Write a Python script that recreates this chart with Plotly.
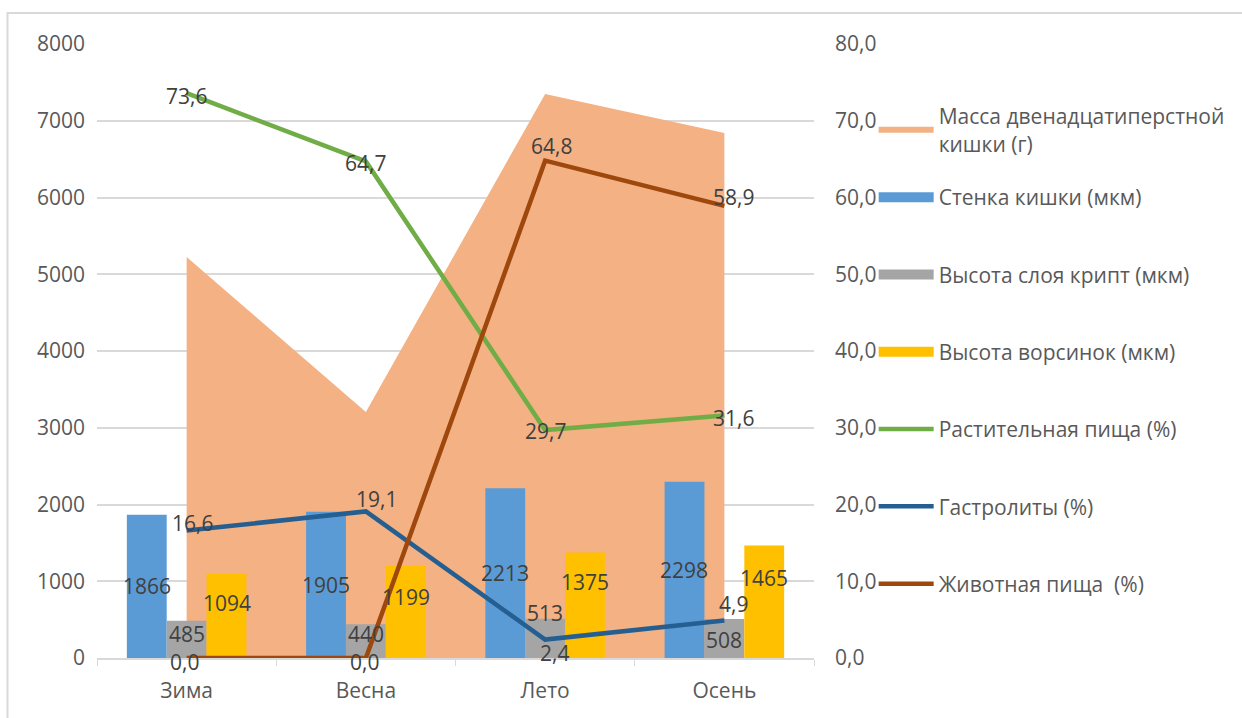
import plotly.graph_objects as go

# ---- data ----
seasons = ["Зима", "Весна", "Лето", "Осень"]
mass_duodenum = [5225, 3205, 7350, 6840]          # Масса двенадцатиперстной кишки (г)
wall = [1866, 1905, 2213, 2298]                    # Стенка кишки (мкм)
crypts = [485, 440, 513, 508]                      # Высота слоя крипт (мкм)
villi = [1094, 1199, 1375, 1465]                   # Высота ворсинок (мкм)
plant_food = [73.6, 64.7, 29.7, 31.6]              # Растительная пища (%)
gastroliths = [16.6, 19.1, 2.4, 4.9]               # Гастролиты (%)
animal_food = [0.0, 0.0, 64.8, 58.9]               # Животная пища (%)
left_ticks = [0, 1000, 2000, 3000, 4000, 5000, 6000, 7000, 8000]
right_ticks = [0, 10, 20, 30, 40, 50, 60, 70, 80]

# ---- style ----
C_AREA = "#F4B183"
C_WALL = "#5B9BD5"
C_CRYPT = "#A5A5A5"
C_VILLI = "#FFC000"
C_PLANT = "#70AD47"
C_GASTRO = "#255E91"
C_ANIMAL = "#9E480E"
FONT = "Open Sans"
TXT = "#595959"
LBL = "#404040"
FS = 21

def fmt(v):
    return f"{v:.1f}".replace(".", ",")

fig = go.Figure()

fig.add_trace(go.Scatter(
    x=seasons, y=mass_duodenum, name="Масса двенадцатиперстной<br>кишки (г)",
    mode="none", fill="tozeroy", fillcolor=C_AREA, yaxis="y",
    legend="legend"))

bar_series = [
    ("Стенка кишки (мкм)", wall, C_WALL),
    ("Высота слоя крипт (мкм)", crypts, C_CRYPT),
    ("Высота ворсинок (мкм)", villi, C_VILLI),
]
for name, vals, col in bar_series:
    fig.add_trace(go.Bar(x=seasons, y=vals, name=name, marker_color=col,
                         marker_line_width=0, yaxis="y2", showlegend=False))

# legend keys for the bar series (wide rectangles like the original)
for i, (name, vals, col) in enumerate(bar_series):
    fig.add_trace(go.Scatter(x=[None], y=[None], name=name, mode="lines",
                             line=dict(color=col, width=10), yaxis="y2",
                             legend="legend2", legendgroup=f"b{i}"))

for i, (name, vals, col) in enumerate([
    ("Растительная пища (%)", plant_food, C_PLANT),
    ("Гастролиты (%)", gastroliths, C_GASTRO),
    ("Животная пища  (%)", animal_food, C_ANIMAL),
]):
    fig.add_trace(go.Scatter(x=seasons, y=vals, name=name, mode="lines",
                             line=dict(color=col, width=4.5), yaxis="y3",
                             legend="legend2", legendgroup=f"l{i}"))

# ---- data labels ----
ann = []
bar_label_specs = [
    (wall, -40, [0.5, 0.5, 0.5, 0.5]),
    (crypts, 0, [0.65, 0.71, 1.14, 0.46]),
    (villi, 40, [0.655, 0.663, 0.72, 0.711]),
]
for vals, xs, fr in bar_label_specs:
    for s, v, f in zip(seasons, vals, fr):
        ann.append(dict(x=s, y=v * f, xref="x", yref="y2", text=str(v),
                        showarrow=False, xshift=xs,
                        font=dict(family=FONT, size=FS, color=LBL)))

line_label_specs = [
    (plant_food, [(0, -3), (0, -2), (0, -1), (9, -3)]),
    (gastroliths, [(6, 8), (11, 12), (9, -13), (9, 16)]),
    (animal_food, [(-2, -4), (-1, -4), (6, 15), (9, 9)]),
]
for vals, shifts in line_label_specs:
    for s, v, (dx, dy) in zip(seasons, vals, shifts):
        ann.append(dict(x=s, y=v, xref="x", yref="y3", text=fmt(v),
                        showarrow=False, xshift=dx, yshift=dy,
                        font=dict(family=FONT, size=FS, color=LBL)))

L, R, T, B = 97, 424, 44, 60
W, H = 1242, 718
pw, ph = W - L - R, H - T - B

def px_x(p):
    return (p - L) / pw

def px_y(p):
    return (H - B - p) / ph

legend_common = dict(xanchor="left", yanchor="top", traceorder="grouped",
                     font=dict(family=FONT, size=FS, color=TXT),
                     bgcolor="rgba(0,0,0,0)", itemwidth=55)

border = dict(color="#D9D9D9", width=2)

fig.update_layout(
    width=W, height=H,
    margin=dict(l=L, r=R, t=T, b=B),
    paper_bgcolor="white", plot_bgcolor="white",
    font=dict(family=FONT, size=FS, color=TXT),
    separators=", ",
    barmode="group", bargap=0.333, bargroupgap=0,
    showlegend=True,
    legend=dict(x=px_x(878), y=px_y(96), **legend_common),
    legend2=dict(x=px_x(878), y=px_y(177), tracegroupgap=47, **legend_common),
    xaxis=dict(type="category", showgrid=False, showline=True, linecolor="#D9D9D9",
               linewidth=1.5, ticks="outside", tickson="boundaries", ticklen=6,
               tickcolor="#D9D9D9", tickfont=dict(size=FS, color=TXT),
               ticklabelstandoff=13, zeroline=False),
    yaxis=dict(range=[0, 8000], tickvals=left_ticks, showgrid=True,
               gridcolor="#D9D9D9", gridwidth=1.5, zeroline=False, showline=False,
               ticks="", tickfont=dict(size=FS, color=TXT), ticklabelstandoff=11),
    yaxis2=dict(range=[0, 8000], overlaying="y", visible=False),
    yaxis3=dict(range=[0, 80], overlaying="y", side="right", tickvals=right_ticks,
                tickformat=".1f", showgrid=False, zeroline=False, showline=False,
                ticks="", tickfont=dict(size=FS, color=TXT), ticklabelstandoff=20),
    annotations=ann,
    shapes=[
        dict(type="line", xref="paper", yref="paper", x0=px_x(7), x1=px_x(W + 60),
             y0=px_y(13), y1=px_y(13), line=border, layer="below"),
        dict(type="line", xref="paper", yref="paper", x0=px_x(7), x1=px_x(7),
             y0=px_y(12), y1=px_y(H + 60), line=border, layer="below"),
    ],
)

fig.write_html("out.html")
